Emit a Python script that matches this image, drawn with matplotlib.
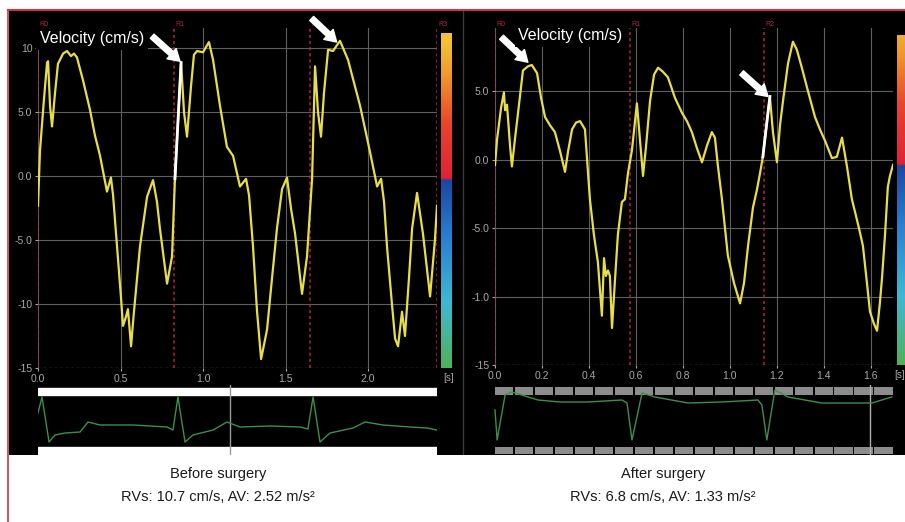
import numpy as np
import matplotlib
matplotlib.use("Agg")
import matplotlib.pyplot as plt
from matplotlib.colors import LinearSegmentedColormap, Normalize
from matplotlib.patches import Rectangle
from matplotlib.lines import Line2D

plt.rcParams['font.family'] = ['Liberation Sans', 'DejaVu Sans']

# ---- data: before surgery (left) ----
pre_t = [0.000, 0.012, 0.036, 0.055, 0.061, 0.073, 0.085, 0.103, 0.121, 0.152, 0.176, 0.200,
         0.218, 0.236, 0.273, 0.315, 0.345, 0.376, 0.400, 0.418, 0.442, 0.455, 0.479, 0.503,
         0.515, 0.533, 0.545, 0.564, 0.576, 0.600, 0.618, 0.661, 0.697, 0.721, 0.739, 0.782,
         0.812, 0.830, 0.867, 0.885, 0.903, 0.927, 0.945, 0.964, 1.000, 1.036, 1.061, 1.103,
         1.145, 1.182, 1.224, 1.261, 1.279, 1.303, 1.327, 1.352, 1.388, 1.418, 1.448, 1.479,
         1.509, 1.533, 1.558, 1.600, 1.630, 1.661, 1.679, 1.697, 1.715, 1.733, 1.758, 1.788,
         1.830, 1.879, 1.952, 2.012, 2.055, 2.079, 2.097, 2.115, 2.145, 2.164, 2.182, 2.206,
         2.224, 2.248, 2.267, 2.297, 2.333, 2.376, 2.406, 2.418]
pre_v = [-2.3, 2.0, 6.0, 8.9, 9.0, 5.5, 3.9, 6.5, 8.8, 9.6, 9.8, 9.4,
         9.6, 9.3, 7.5, 5.2, 3.2, 1.6, 0.0, -1.2, -0.1, -1.5, -5.5, -9.5,
         -11.7, -11.0, -10.4, -13.3, -11.4, -8.0, -5.5, -1.6, -0.3, -2.0, -4.1, -8.4,
         -6.3, -0.2, 8.9, 5.0, 3.1, 7.0, 9.5, 9.8, 9.7, 10.5, 9.1, 5.5,
         2.3, 1.6, -0.8, -0.2, -1.5, -5.5, -10.5, -14.3, -12.0, -8.0, -4.1, -1.0,
         -0.1, -2.5, -4.5, -9.2, -6.3, -0.2, 8.6, 5.0, 3.1, 6.5, 9.9, 9.8,
         10.6, 9.1, 5.5, 1.9, -0.8, -0.2, -2.0, -5.5, -10.0, -12.7, -13.3, -10.6,
         -12.5, -8.0, -4.1, -1.3, -4.5, -9.4, -4.9, -2.3]
pre_white = (0.830, 0.867)
pre_markers = [0.0, 0.824, 1.648, 2.418]
pre_marker_labels = ['R0', 'R1', 'R2', 'R3']
pre_xticks = [0.0, 0.5, 1.0, 1.5, 2.0]
pre_xlabels = ['0.0', '0.5', '1.0', '1.5', '2.0']
pre_yticks = [10, 5, 0, -5, -10, -15]
pre_ylabels = ['10', '5.0', '0.0', '-5.0', '-10', '-15']
pre_ecg_t = [0.0, 0.024, 0.067, 0.103, 0.164, 0.255, 0.303, 0.376, 0.576, 0.679, 0.782,
             0.818, 0.848, 0.891, 0.939, 1.061, 1.145, 1.224, 1.406, 1.588, 1.636, 1.667,
             1.709, 1.770, 1.909, 1.982, 2.091, 2.255, 2.358, 2.418]
pre_ecg_v = [1.4, 3.0, -1.5, -0.8, -0.6, -0.5, 0.5, 0.2, 0.2, 0.1, 0.0,
             -0.3, 3.0, -1.5, -0.8, -0.3, 0.5, 0.0, 0.1, 0.0, -0.2, 3.0,
             -1.5, -0.6, -0.1, 0.5, 0.2, 0.0, -0.1, -0.3]

# ---- data: after surgery (right) ----
post_t = [0.000, 0.009, 0.026, 0.038, 0.043, 0.051, 0.064, 0.072, 0.085, 0.098, 0.119, 0.140,
          0.157, 0.179, 0.196, 0.213, 0.234, 0.255, 0.277, 0.298, 0.311, 0.328, 0.345, 0.362,
          0.383, 0.396, 0.404, 0.421, 0.438, 0.455, 0.464, 0.472, 0.481, 0.489, 0.498, 0.511,
          0.523, 0.540, 0.553, 0.566, 0.583, 0.604, 0.630, 0.643, 0.660, 0.677, 0.694, 0.715,
          0.736, 0.766, 0.796, 0.817, 0.838, 0.860, 0.881, 0.902, 0.923, 0.936, 0.949, 0.966,
          0.991, 1.017, 1.043, 1.060, 1.077, 1.098, 1.115, 1.128, 1.140, 1.170, 1.183, 1.200,
          1.213, 1.226, 1.247, 1.268, 1.285, 1.306, 1.332, 1.362, 1.383, 1.404, 1.434, 1.455,
          1.477, 1.498, 1.519, 1.532, 1.549, 1.566, 1.583, 1.596, 1.613, 1.626, 1.638, 1.647,
          1.660, 1.672, 1.681, 1.694]
post_v = [-0.4, 1.5, 3.8, 4.9, 3.6, 4.0, 1.0, -0.5, 1.5, 3.4, 6.5, 6.8,
          6.9, 6.3, 4.5, 3.1, 2.5, 2.0, 0.6, -0.9, 0.6, 2.2, 2.7, 2.8,
          2.2, -1.0, -2.9, -5.5, -7.5, -11.4, -7.2, -8.5, -8.1, -8.5, -12.3, -8.7,
          -5.5, -3.1, -2.9, -1.0, 0.7, 4.1, -1.2, 1.0, 4.3, 6.2, 6.7, 6.4,
          6.0, 4.5, 3.4, 2.8, 2.0, 0.8, -0.2, 1.0, 2.0, 1.6, -0.5, -2.9,
          -7.0, -9.0, -10.5, -9.0, -6.3, -3.5, -2.2, -1.0, 0.2, 4.6, 2.0, -0.2,
          2.5, 4.3, 7.0, 8.6, 8.0, 6.7, 5.0, 3.1, 2.2, 1.4, 0.1, 0.2,
          1.6, -0.5, -2.9, -3.8, -5.0, -6.3, -9.0, -11.1, -12.0, -12.5, -10.5, -8.7,
          -5.5, -2.0, -1.2, -0.4]
post_white = (1.140, 1.170)
post_markers = [0.0, 0.574, 1.145]
post_marker_labels = ['R0', 'R1', 'R2']
post_xticks = [0.0, 0.2, 0.4, 0.6, 0.8, 1.0, 1.2, 1.4, 1.6]
post_xlabels = ['0.0', '0.2', '0.4', '0.6', '0.8', '1.0', '1.2', '1.4', '1.6']
post_yticks = [5, 0, -5, -10, -15]
post_ylabels = ['5.0', '0.0', '-5.0', '-1.0', '-15']
post_ecg_t = [0.0, 0.009, 0.043, 0.072, 0.183, 0.277, 0.396, 0.540, 0.562, 0.583, 0.626,
              0.681, 0.821, 0.966, 1.119, 1.136, 1.157, 1.191, 1.247, 1.391, 1.604, 1.689]
post_ecg_v = [-1.0, -4.0, 0.5, 0.8, 0.0, -0.2, -0.2, 0.0, -0.3, -4.0, 0.7,
              0.3, -0.3, -0.2, 0.0, -0.5, -4.0, 1.0, 0.3, -0.3, -0.3, 0.3]

captions = ['Before surgery', 'After surgery']
summaries = ['RVs: 10.7 cm/s, AV: 2.52 m/s\u00b2', 'RVs: 6.8 cm/s, AV: 1.33 m/s\u00b2']

W, H = 905, 522
fig = plt.figure(figsize=(W / 100, H / 100), dpi=100)
fig.patch.set_facecolor('white')


def rect(x0, y0, x1, y1):
    return [x0 / W, 1 - y1 / H, (x1 - x0) / W, (y1 - y0) / H]


# black screen + red frame (drawn as a background axes)
bg = fig.add_axes(rect(9, 10, 905, 455), zorder=-5)
bg.set_facecolor('black')
bg.set_xticks([])
bg.set_yticks([])
for s in bg.spines.values():
    s.set_visible(False)
bg.axvline(0.507, color='#3a3a3a', lw=1.0)
fig.add_artist(Line2D([8 / W, 1], [1 - 9.5 / H, 1 - 9.5 / H], color='#c8354d', lw=1.5))
fig.add_artist(Line2D([8 / W, 8 / W], [0, 1 - 9.5 / H], color='#c8354d', lw=1.2))

cmap = LinearSegmentedColormap.from_list('vel', [
    (0.0, '#4fb25a'), (0.2, '#3fb8d4'), (0.4, '#2a7fd0'), (0.575, '#1a47a0'),
    (0.577, '#e0203a'), (0.75, '#e8452a'), (0.9, '#f09a2c'), (1.0, '#f2c234')])
norm = Normalize(-15, 11)

grey = '#a8a8a8'
yellow = '#e8df48'


def panel(main_rect, cb_rect, t, v, white, markers, mlabels, xticks, xlabels,
          yticks, ylabels, ytop, arrows, label_off, sx):
    ax = fig.add_axes(rect(*main_rect))
    ax.set_facecolor('black')
    ax.set_xlim(0, t[-1])
    ax.set_ylim(-15, ytop)
    for s in ax.spines.values():
        s.set_visible(False)
    ax.set_xticks(xticks)
    ax.set_xticklabels(xlabels)
    ax.set_yticks(yticks)
    ax.set_yticklabels(ylabels)
    ax.tick_params(colors=grey, labelsize=7.5, length=2, pad=2)
    ax.grid(True, color='#5f5f5f', lw=0.8)
    ax.axhline(-15, color='#707070', lw=1.0, ls=(0, (1, 3)))
    for m, lab in zip(markers, mlabels):
        ax.axvline(m, color='#b0283c', lw=1.1, ls=(0, (2, 2)))
        ax.text(m + 0.004 * t[-1], 1.0, lab, transform=ax.get_xaxis_transform(),
                color='#b0283c', fontsize=5, va='bottom', ha='left')
    ax.text(sx, -0.03, '[s]', transform=ax.transAxes, color=grey, fontsize=7,
            va='center', ha='left')
    tt = np.array(t)
    vv = np.array(v)
    ax.plot(tt, vv, color=yellow, lw=1.6, zorder=3)
    sel = (tt >= white[0]) & (tt <= white[1])
    ax.plot(tt[sel], vv[sel], color='white', lw=2.0, zorder=4)
    for (hx, hy, dx, dy) in arrows:
        ax.annotate('', xy=(hx, hy), xytext=(dx, dy), textcoords='offset points',
                    annotation_clip=False,
                    arrowprops=dict(arrowstyle='simple,head_width=1.1,head_length=0.9,tail_width=0.45',
                                    fc='white', ec='white', mutation_scale=9, shrinkA=0, shrinkB=0),
                    zorder=6)
    ax.text(label_off[0], label_off[1], 'Velocity (cm/s)', transform=ax.transAxes,
            color='white', fontsize=11.5, va='top', ha='left', zorder=7,
            bbox=dict(fc='black', ec='none', pad=2.5))
    cb = fig.add_axes(rect(*cb_rect))
    cb.set_axis_off()
    grad = np.linspace(-15, ytop, 256).reshape(-1, 1)
    cb.imshow(grad, cmap=cmap, norm=norm, aspect='auto', origin='lower',
              extent=(0, 1, -15, ytop))
    cb.set_ylim(-15, ytop)
    return ax


panel((38, 28, 437, 368), (441, 33, 452, 368), pre_t, pre_v, pre_white, pre_markers,
      pre_marker_labels, pre_xticks, pre_xlabels, pre_yticks, pre_ylabels, 11.6,
      [(0.86, 9.0, -20, 18), (1.81, 10.5, -18, 17)], (0.005, 0.99), 1.015)
panel((495, 28, 893, 365), (897, 35, 905, 365), post_t, post_v, post_white, post_markers,
      post_marker_labels, post_xticks, post_xlabels, post_yticks, post_ylabels, 9.6,
      [(0.14, 7.1, -19, 18), (1.162, 4.6, -19, 17)], (0.058, 1.0), 1.002)

# ECG strips
ax_e1 = fig.add_axes(rect(38, 385, 437, 455))
ax_e1.set_facecolor('black')
ax_e1.set_xlim(0, pre_t[-1])
ax_e1.set_ylim(-2.8, 4.2)
ax_e1.set_axis_off()
ax_e1.axhspan(3.2, 3.9, color='white', zorder=1)
ax_e1.axhspan(-2.7, -2.0, color='white', zorder=1)
ax_e1.axvline(1.164, color='#9a9a9a', lw=1.0, zorder=2)
ax_e1.plot(pre_ecg_t, pre_ecg_v, color='#3e8e4c', lw=1.0, zorder=3)

ax_e2 = fig.add_axes(rect(493, 385, 893, 455))
ax_e2.set_facecolor('black')
ax_e2.set_xlim(-0.0085, post_t[-1])
ax_e2.set_ylim(-5.5, 1.5)
ax_e2.set_axis_off()
for k in np.arange(0.0, 1.70, 0.085):
    for (lo, hi) in [(0.5, 1.3), (-5.4, -4.7)]:
        ax_e2.add_patch(Rectangle((k, lo), 0.078, hi - lo, fc='#8c8c8c', ec='none', zorder=1))
ax_e2.axvline(1.596, color='#b0b0b0', lw=1.0, zorder=2)
ax_e2.plot(post_ecg_t, post_ecg_v, color='#3e8e4c', lw=1.0, zorder=3)

# captions
for cx, cap, summ in zip([218, 663], captions, summaries):
    fig.text(cx / W, 1 - 474 / H, cap, ha='center', va='center', fontsize=10.5, color='#1a1a1a')
    fig.text(cx / W, 1 - 497 / H, summ, ha='center', va='center', fontsize=10.5, color='#1a1a1a')

fig.savefig('out.png', dpi=100, facecolor='white')
